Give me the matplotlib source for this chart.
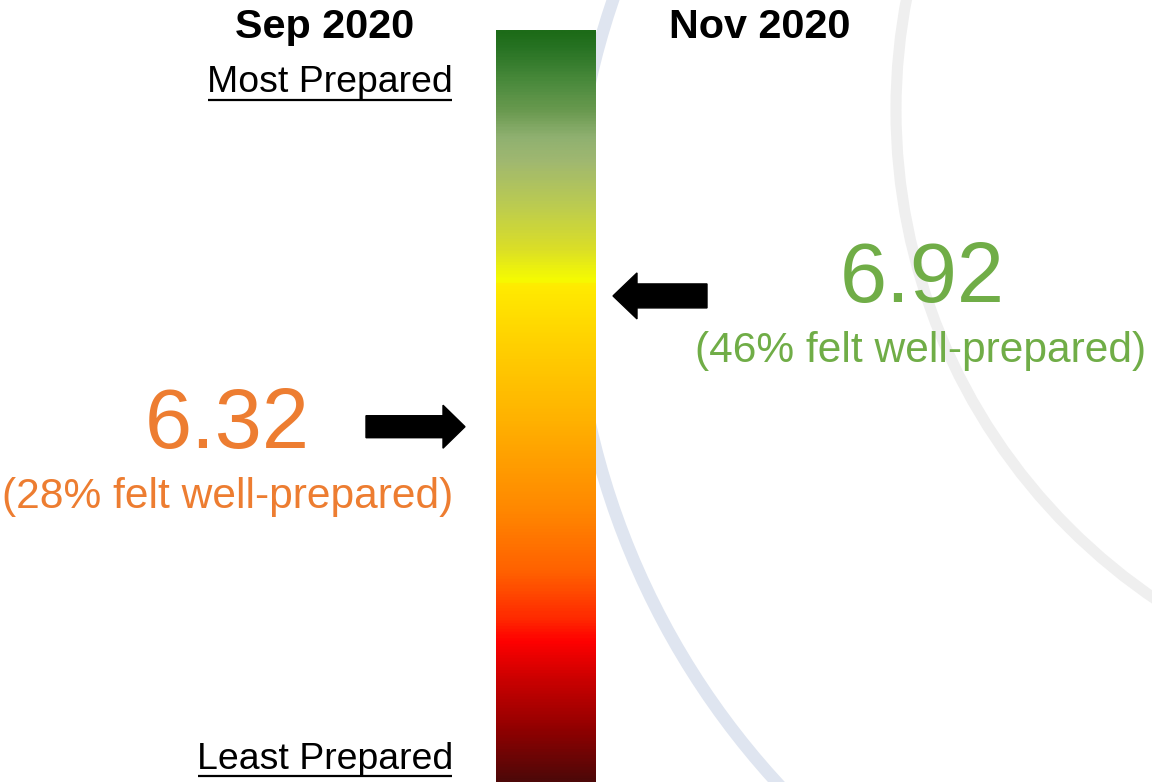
import matplotlib
matplotlib.use("Agg")
import matplotlib.pyplot as plt
import numpy as np
from matplotlib.colors import LinearSegmentedColormap
from matplotlib.patches import Circle, FancyArrow

plt.rcParams['font.family'] = ['Liberation Sans', 'DejaVu Sans']

# --- data -------------------------------------------------------------
periods = ["Sep 2020", "Nov 2020"]
scores = [6.32, 6.92]
pct_well_prepared = [28, 46]
scale_labels = ["Most Prepared", "Least Prepared"]
score_colors = ["#ed7d31", "#70ad47"]

# gauge range covered by the colour bar (bottom, top)
gauge_min, gauge_max = 4.69, 8.14

# colour bar stops: fraction from the top of the bar -> colour
grad_pos = [0.0, 0.020, 0.0665, 0.106, 0.140, 0.173, 0.233, 0.289,
            0.332, 0.338, 0.406, 0.512, 0.592, 0.638, 0.723, 0.785,
            0.814, 0.864, 0.924, 1.0]
grad_cols = ["#1d6b18", "#267222", "#4a8a3c", "#6a9a50", "#8fb070",
             "#a0b870", "#bccc50", "#dade28", "#f6fc00", "#ffec00",
             "#ffd400", "#ffb400", "#ff9800", "#ff8800", "#ff6000",
             "#ff2800", "#ff0000", "#cc0000", "#980000", "#4e0808"]

# --- layout (pixel space) --------------------------------------------
W, H = 1152, 782
fig = plt.figure(figsize=(W / 100, H / 100), dpi=100)
ax = fig.add_axes([0, 0, 1, 1])
ax.set_xlim(0, W)
ax.set_ylim(H, 0)
ax.set_aspect('equal')
ax.axis('off')

bar_x0, bar_x1, bar_top, bar_bot = 496, 596, 30, 782


def score_to_y(v):
    return bar_top + (gauge_max - v) / (gauge_max - gauge_min) * (bar_bot - bar_top)


# decorative background rings
ax.add_patch(Circle((1355, 253), 784, fill=False, lw=9, ec="#dfe5f0", zorder=1))
ax.add_patch(Circle((1487, 110), 591, fill=False, lw=8, ec="#efefef", zorder=1))

# colour gauge
cmap = LinearSegmentedColormap.from_list("gauge", list(zip(grad_pos, grad_cols)))
grad = np.linspace(0, 1, 800).reshape(-1, 1)
ax.imshow(grad, cmap=cmap, aspect='auto', interpolation='bilinear',
          extent=[bar_x0, bar_x1, bar_bot, bar_top], zorder=2)

# period headers
ax.text(325, 38, periods[0], ha='center', va='baseline', fontsize=29.8,
        fontweight='bold', color='black', zorder=5)
ax.text(760, 38, periods[1], ha='center', va='baseline', fontsize=29.8,
        fontweight='bold', color='black', zorder=5)

# scale end labels (underlined)
t_most = ax.text(453, 92, scale_labels[0], ha='right', va='baseline',
                 fontsize=26.9, color='black', zorder=5)
t_least = ax.text(453, 769, scale_labels[1], ha='right', va='baseline',
                  fontsize=26.9, color='black', zorder=5)

# September score (left)
y_sep = score_to_y(scores[0])
ax.text(227, 448, f"{scores[0]:.2f}", ha='center', va='baseline',
        fontsize=61, color=score_colors[0], zorder=5)
ax.text(228, 508, f"({pct_well_prepared[0]}% felt well-prepared)",
        ha='center', va='baseline', fontsize=30.6, color=score_colors[0], zorder=5)
ax.add_patch(FancyArrow(366, y_sep, 99, 0, width=22, head_width=43,
                        head_length=22, length_includes_head=True,
                        color='black', zorder=4))

# November score (right)
y_nov = score_to_y(scores[1])
ax.text(922, 302, f"{scores[1]:.2f}", ha='center', va='baseline',
        fontsize=61, color=score_colors[1], zorder=5)
ax.text(921, 362, f"({pct_well_prepared[1]}% felt well-prepared)",
        ha='center', va='baseline', fontsize=30.6, color=score_colors[1], zorder=5)
ax.add_patch(FancyArrow(707, y_nov, -94, 0, width=24, head_width=46,
                        head_length=24, length_includes_head=True,
                        color='black', zorder=4))

# underline the scale labels
fig.canvas.draw()
renderer = fig.canvas.get_renderer()
inv = ax.transData.inverted()
for t, y_ul in ((t_most, 99.5), (t_least, 776)):
    bb = t.get_window_extent(renderer)
    (x0, _), (x1, _) = inv.transform([[bb.x0, bb.y0], [bb.x1, bb.y1]])
    ax.plot([x0 + 1, x1 - 1], [y_ul, y_ul], color='black', lw=1.6,
            solid_capstyle='butt', zorder=5)

fig.savefig("out.png", dpi=100, facecolor='white')
